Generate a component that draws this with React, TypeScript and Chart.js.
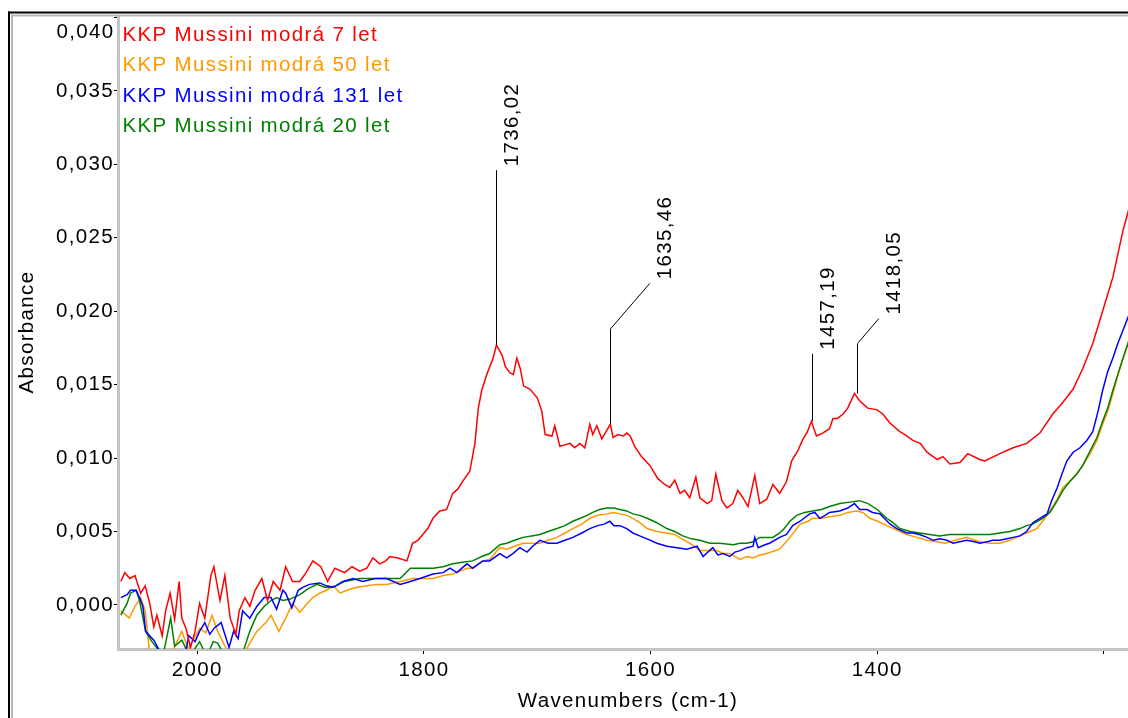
import React, { useEffect, useRef } from 'react';
import { Chart, registerables } from 'chart.js';

Chart.register(...registerables);

const FONT = '"Liberation Sans", Arial, Helvetica, sans-serif';
const FONT_SIZE = 20.5;
const LETTER_SPACING = '1.35px';

const seriesNames = ['KKP Mussini modrá 7 let', 'KKP Mussini modrá 50 let', 'KKP Mussini modrá 131 let', 'KKP Mussini modrá 20 let'];
const seriesColors = ['#ff0000', '#ff9900', '#0000ff', '#008000'];

const xTickLabels: Record<number, string> = { 2000: '2000', 1800: '1800', 1600: '1600', 1400: '1400', 1200: '' };

const peakWn = [1736.02, 1635.46, 1457.19, 1418.05];
const peakLabels = ['1736,02', '1635,46', '1457,19', '1418,05'];
const peakAbs = [0.0177, 0.0123, 0.0125, 0.0144];
const leaderElbowAbs = [0.0296, 0.0188, 0.0171, 0.0178];
const leaderEndWn = [1736.02, 1600.6, 1457.19, 1398.5];
const leaderEndAbs = [0.0296, 0.0219, 0.0171, 0.0195];

// KKP Mussini modrá 7 let
const red7: [number, number][] = [
  [2067.5, 0.0016], [2064, 0.0022], [2059.6, 0.0018], [2055, 0.002], [2050, 0.0008], [2046, 0.0013], [2042, 0.0001],
  [2038.4, -0.0015], [2035.7, -0.0007], [2031, -0.0021], [2028, -0.0004], [2024, 0.0008], [2020, -0.001], [2016, 0.0016],
  [2013.7, -0.0009], [2010, -0.0016], [2006, -0.0029], [2002, -0.0018], [1998, 0.0001], [1993.4, -0.0009], [1988, 0.002],
  [1985.4, 0.0026], [1980, 0.0003], [1975.7, 0.002], [1971, -0.0009], [1966, -0.002], [1963, -0.0004], [1958, 0.0005],
  [1953.7, -0.0001], [1949, 0.001], [1943, 0.0018], [1938, 0.0003], [1933, 0.0016], [1927, 0.001], [1922, 0.0026],
  [1916, 0.0016], [1909.5, 0.0016], [1904, 0.0022], [1898, 0.003], [1891, 0.0026], [1885, 0.0016], [1878.6, 0.0025],
  [1870, 0.0022], [1863.5, 0.0026], [1856.6, 0.0023], [1850.4, 0.0025], [1845, 0.0032], [1839, 0.0028], [1833.7, 0.003],
  [1830, 0.0033], [1823, 0.0032], [1815, 0.003], [1810, 0.0042], [1805.3, 0.0044], [1801, 0.0048], [1796.6, 0.0052],
  [1792, 0.0059], [1786, 0.0064], [1780, 0.0065], [1774.5, 0.0076], [1770, 0.0079], [1766, 0.0084], [1759.5, 0.0091],
  [1755, 0.011], [1752, 0.0134], [1749, 0.0146], [1744.5, 0.0157], [1739, 0.0168], [1736, 0.0177], [1731, 0.017],
  [1728, 0.0162], [1724, 0.0158], [1721, 0.0157], [1718, 0.0168], [1715, 0.0161], [1712, 0.0149], [1706.5, 0.0147],
  [1700, 0.0141], [1696, 0.0132], [1693, 0.0116], [1687, 0.0115], [1684.5, 0.0122], [1680, 0.0108], [1675.6, 0.0109],
  [1671, 0.011], [1667, 0.0107], [1662.4, 0.011], [1658, 0.0107], [1653.6, 0.0123], [1651, 0.0116], [1647.4, 0.0122],
  [1643, 0.0113], [1640, 0.0117], [1635.5, 0.0123], [1633, 0.0114], [1629, 0.0116], [1624, 0.0115], [1621, 0.0117],
  [1618, 0.0115], [1614, 0.0108], [1608, 0.0101], [1600.6, 0.0095], [1593.5, 0.0086], [1587.4, 0.0082], [1583, 0.008],
  [1578.6, 0.0085], [1574, 0.0076], [1570, 0.0078], [1565.4, 0.0073], [1560, 0.0087], [1556.5, 0.0073], [1550, 0.0069],
  [1546, 0.0071], [1542.4, 0.0089], [1537, 0.0071], [1532.7, 0.0066], [1527.4, 0.0069], [1523, 0.0078], [1518.5, 0.0073],
  [1514, 0.0067], [1508, 0.0088], [1503.6, 0.0069], [1497.4, 0.0072], [1492, 0.0082], [1486, 0.0076], [1480, 0.0084],
  [1475.5, 0.0098], [1470, 0.0105], [1466, 0.0112], [1461.5, 0.0118], [1458, 0.0125], [1453.6, 0.0115], [1448, 0.0117],
  [1442, 0.012], [1439, 0.0127], [1435, 0.0127], [1430, 0.013], [1426, 0.0134], [1420, 0.0144], [1415.5, 0.0139],
  [1408.4, 0.0134], [1400.4, 0.0133], [1395, 0.013], [1389, 0.0124], [1380, 0.0118], [1375.5, 0.0116], [1368.5, 0.0112],
  [1362, 0.011], [1356, 0.0104], [1347, 0.0099], [1342, 0.0101], [1335.8, 0.0096], [1327, 0.0097], [1320, 0.0103],
  [1309.5, 0.0099], [1305, 0.0098], [1291.7, 0.0103], [1280, 0.0107], [1268, 0.011], [1256.4, 0.0117], [1245, 0.013],
  [1236, 0.0138], [1227, 0.0147], [1218.5, 0.0161], [1209.7, 0.0178], [1201, 0.02], [1192, 0.0223], [1183, 0.0255],
  [1177, 0.0272],
];

// KKP Mussini modrá 50 let
const orange50: [number, number][] = [
  [2067.5, -0.0004], [2060, -0.0009], [2055, -0.0001], [2050, 0.0005], [2046, -0.0004], [2042, -0.0033], [2033, -0.0038],
  [2024, -0.0035], [2013.7, -0.0018], [2008, -0.003], [1998, -0.0016], [1992.5, -0.0019], [1987, -0.0007], [1982, -0.0018],
  [1975.7, -0.0028], [1969.6, -0.0035], [1960, -0.0035], [1953.7, -0.0026], [1947.5, -0.0018], [1939.5, -0.0012],
  [1935, -0.0007], [1928, -0.0018], [1922, -0.0009], [1916, 0.0001], [1909.5, -0.0005], [1903, 0.0001], [1898, 0.0005],
  [1892, 0.0008], [1886, 0.001], [1880, 0.0013], [1874, 0.0008], [1868, 0.001], [1859, 0.0012], [1850, 0.0013],
  [1841.5, 0.0014], [1833, 0.0014], [1821, 0.0016], [1810, 0.0018], [1801, 0.0018], [1792, 0.0018], [1783, 0.002],
  [1774.5, 0.0021], [1762, 0.0025], [1757, 0.0025], [1748, 0.003], [1742, 0.0031], [1733, 0.0039], [1727, 0.0038],
  [1720, 0.004], [1712.6, 0.0042], [1705, 0.0042], [1697.6, 0.0042], [1690.5, 0.0044], [1682.6, 0.0046], [1675.6, 0.0049],
  [1668.6, 0.0052], [1660.6, 0.0055], [1653.6, 0.0059], [1646.6, 0.0061], [1638.6, 0.0062], [1632.4, 0.0063], [1627, 0.0062],
  [1621, 0.0061], [1615.6, 0.0059], [1609.5, 0.0056], [1603, 0.0052], [1594.4, 0.005], [1585.6, 0.0049], [1578.6, 0.0048],
  [1572.4, 0.0045], [1565.4, 0.0042], [1556.5, 0.0037], [1549.4, 0.0037], [1541.5, 0.0037], [1536, 0.0035], [1530, 0.0035],
  [1521, 0.0031], [1515, 0.0033], [1509.5, 0.0032], [1503.5, 0.0034], [1497.4, 0.0035], [1486, 0.0038], [1477, 0.0046],
  [1468, 0.0055], [1461, 0.0057], [1457, 0.0059], [1449, 0.0059], [1442, 0.006], [1433, 0.0061], [1426, 0.0063],
  [1418, 0.0064], [1412.6, 0.0063], [1406.5, 0.0059], [1399.5, 0.0057], [1391.5, 0.0054], [1382.6, 0.0051], [1374, 0.0048],
  [1365, 0.0046], [1356, 0.0044], [1347, 0.0043], [1340, 0.0042], [1331, 0.0044], [1321, 0.0046], [1314, 0.0044],
  [1309.5, 0.0043], [1300.5, 0.0042], [1291.7, 0.0042], [1283, 0.0044], [1274, 0.0047], [1265, 0.005], [1259, 0.0052],
  [1254, 0.0057], [1247.5, 0.0064], [1241, 0.0072], [1236, 0.008], [1230, 0.0084], [1224, 0.0089], [1218.5, 0.0095],
  [1212, 0.0103], [1206, 0.0112], [1201, 0.0123], [1196.5, 0.0132], [1192, 0.0144], [1187.6, 0.0156], [1183, 0.0168],
  [1177, 0.0181],
];

// KKP Mussini modrá 131 let
const blue131: [number, number][] = [
  [2067.5, 0.0005], [2062, 0.0007], [2059, 0.001], [2054, 0.001], [2051, 0.0005], [2048, -0.0001], [2045.6, -0.0018],
  [2038.4, -0.0024], [2032, -0.0033], [2024, -0.0037], [2015.4, -0.0038], [2010, -0.0031], [2007.5, -0.0021], [2002, -0.0025],
  [1998, -0.0018], [1993.4, -0.0012], [1989, -0.002], [1985.4, -0.0016], [1979, -0.0012], [1972, -0.0029], [1968, -0.0018],
  [1964, -0.0023], [1960, -0.0004], [1953.7, -0.0009], [1947.5, -0.0001], [1941, 0.0005], [1935, 0.0005], [1930, -0.0003],
  [1924.5, 0.001], [1922, 0.0008], [1916.6, -0.0002], [1911, 0.001], [1907, 0.0012], [1901, 0.0014], [1892, 0.0015],
  [1886, 0.0013], [1880, 0.0012], [1871.5, 0.0016], [1862.5, 0.0018], [1854, 0.0016], [1843, 0.0018], [1833, 0.0018],
  [1821, 0.0014], [1812, 0.0016], [1803.6, 0.0018], [1792, 0.0021], [1783, 0.0022], [1777, 0.0025], [1771, 0.0022],
  [1762, 0.0028], [1757, 0.0025], [1748, 0.003], [1742, 0.003], [1733, 0.0035], [1727, 0.0032], [1721.5, 0.0035],
  [1715.4, 0.0039], [1709, 0.0036], [1704, 0.004], [1697.6, 0.0044], [1690.5, 0.0042], [1682.6, 0.0042], [1675.6, 0.0044],
  [1668.6, 0.0046], [1660.6, 0.0049], [1653.6, 0.0052], [1646.6, 0.0054], [1641, 0.0055], [1636, 0.0057], [1632.4, 0.0054],
  [1627, 0.0054], [1621, 0.0052], [1615.6, 0.0049], [1609.5, 0.0047], [1603, 0.0045], [1594.4, 0.0042], [1585.6, 0.004],
  [1576.8, 0.0039], [1568, 0.0038], [1559, 0.004], [1553.6, 0.0033], [1549.4, 0.0036], [1545, 0.0039], [1540.6, 0.0034],
  [1536, 0.0035], [1530, 0.0033], [1525.6, 0.0036], [1521, 0.0037], [1515, 0.0039], [1509.5, 0.004], [1508, 0.0046],
  [1505, 0.0039], [1499, 0.0041], [1495, 0.0042], [1486, 0.0046], [1480, 0.0048], [1474.5, 0.0054], [1468, 0.0057],
  [1459.5, 0.0062], [1455, 0.0063], [1450.6, 0.0059], [1446, 0.0061], [1442, 0.0063], [1433, 0.0064], [1426, 0.0066],
  [1420, 0.0069], [1415.5, 0.0065], [1409, 0.0065], [1404, 0.0063], [1397.5, 0.0062], [1388.5, 0.0055], [1382.6, 0.0052],
  [1374, 0.0049], [1368.5, 0.0049], [1362.5, 0.0048], [1356, 0.0046], [1350.5, 0.0044], [1344.5, 0.0045], [1338.5, 0.0044],
  [1333, 0.0042], [1327, 0.0043], [1321, 0.0044], [1314, 0.0043], [1309.5, 0.0042], [1303, 0.0043], [1298, 0.0044],
  [1291.7, 0.0044], [1285.6, 0.0045], [1280, 0.0046], [1274, 0.0047], [1268, 0.005], [1262.6, 0.0056], [1256.4, 0.0059],
  [1250, 0.0062], [1246, 0.0071], [1241, 0.008], [1237, 0.0089], [1232.6, 0.0098], [1227, 0.0104], [1221, 0.0107],
  [1215, 0.0112], [1209.7, 0.0118], [1205, 0.0132], [1201, 0.0146], [1196.5, 0.0159], [1192, 0.0168], [1187.6, 0.0178],
  [1183, 0.0187], [1177, 0.0199],
];

// KKP Mussini modrá 20 let
const green20: [number, number][] = [
  [2067.5, -0.0007], [2062, 0.0001], [2059, 0.0008], [2054, 0.001], [2051, 0.0003], [2045.6, -0.0018], [2040, -0.0025],
  [2035, -0.003], [2029.6, -0.0032], [2023.5, -0.0009], [2020, -0.0028], [2013.7, -0.0024], [2006.6, -0.0035], [1998, -0.0025],
  [1991.6, -0.0035], [1986, -0.0025], [1982, -0.0026], [1975.7, -0.0035], [1967, -0.0038], [1960, -0.0033], [1953.7, -0.0018],
  [1947.5, -0.0007], [1941, -0.0001], [1935, 0.0003], [1930, 0.0005], [1924.5, 0.0003], [1918, 0.0004], [1909.5, 0.0007],
  [1902.4, 0.0011], [1894.5, 0.0014], [1887.4, 0.0012], [1880, 0.0012], [1870, 0.0016], [1856.6, 0.0018], [1843, 0.0018],
  [1830, 0.0018], [1821, 0.0018], [1812, 0.0025], [1803.6, 0.0025], [1792, 0.0025], [1783, 0.0026], [1774.5, 0.0028],
  [1766, 0.0029], [1757, 0.003], [1749, 0.0033], [1742, 0.0035], [1733, 0.0041], [1727, 0.0042], [1720, 0.0044],
  [1712.6, 0.0046], [1705, 0.0047], [1697.6, 0.0048], [1690.5, 0.005], [1682.6, 0.0052], [1675.6, 0.0054], [1668.6, 0.0057],
  [1662, 0.0059], [1656, 0.0061], [1651, 0.0063], [1645, 0.0065], [1638.6, 0.0066], [1632.4, 0.0066], [1627, 0.0065],
  [1621, 0.0064], [1615.6, 0.0062], [1609.5, 0.0061], [1603, 0.0059], [1594.4, 0.0056], [1585.6, 0.0052], [1578.6, 0.005],
  [1571.6, 0.0047], [1563.6, 0.0045], [1556.5, 0.0044], [1547.6, 0.0042], [1539, 0.0042], [1527, 0.0041], [1521, 0.0042],
  [1515, 0.0042], [1509.5, 0.0043], [1503.5, 0.0046], [1497.4, 0.0046], [1492, 0.0046], [1486, 0.0049], [1482, 0.0052],
  [1477, 0.0057], [1471, 0.0061], [1464, 0.0063], [1457, 0.0064], [1449, 0.0065], [1442, 0.0067], [1433, 0.0069],
  [1424, 0.007], [1415.5, 0.0071], [1408, 0.0069], [1400, 0.0065], [1391.5, 0.0059], [1386, 0.0056], [1380, 0.0052],
  [1371, 0.005], [1362.5, 0.0049], [1353.6, 0.0048], [1345, 0.0047], [1336, 0.0048], [1327, 0.0048], [1318, 0.0048],
  [1309.5, 0.0048], [1300.5, 0.0048], [1291.7, 0.0049], [1283, 0.005], [1274, 0.0052], [1268, 0.0054], [1262.6, 0.0055],
  [1254, 0.0059], [1247.5, 0.0063], [1241, 0.0071], [1236, 0.0078], [1230, 0.0084], [1224, 0.0089], [1218.5, 0.0095],
  [1212, 0.0105], [1206, 0.0114], [1201, 0.0125], [1196.5, 0.0134], [1192, 0.0146], [1187.6, 0.0157], [1183, 0.0168],
  [1177, 0.0182],
];

const seriesData = [red7, orange50, blue131, green20];
// draw order: red on top, then blue, green, orange at the bottom
const drawOrder = [0, 2, 3, 1];

const decorPlugin = {
  id: 'decor',
  beforeDraw(chart: any) {
    const ctx = chart.ctx;
    ctx.letterSpacing = LETTER_SPACING;
    ctx.save();
    ctx.fillStyle = '#ffffff';
    ctx.fillRect(0, 0, chart.width, chart.height);
    ctx.restore();
  },
  afterDraw(chart: any) {
    const ctx = chart.ctx;
    const xs = chart.scales.x;
    const ys = chart.scales.y;
    ctx.save();
    // frame
    ctx.fillStyle = '#000000';
    ctx.fillRect(8, 11.5, 1400, 2);
    ctx.fillRect(8, 11.5, 2, 900);
    ctx.fillStyle = '#b8b8b8';
    ctx.fillRect(11, 14.5, 1400, 2);
    ctx.fillRect(11, 14.5, 2, 900);

    ctx.font = `${FONT_SIZE}px ${FONT}`;
    ctx.letterSpacing = LETTER_SPACING;
    ctx.textBaseline = 'alphabetic';

    // legend
    ctx.textAlign = 'left';
    seriesNames.forEach((name, i) => {
      ctx.fillStyle = seriesColors[i];
      ctx.fillText(name, 122.5, 40.5 + 30.5 * i);
    });

    // top y label (shifted down as in the original)
    ctx.fillStyle = '#000000';
    ctx.textAlign = 'right';
    ctx.fillText('0,040', 114.5, 37.5);

    // axis titles
    ctx.textAlign = 'center';
    ctx.fillText('Wavenumbers (cm-1)', 628, 707);
    ctx.save();
    ctx.translate(33, 332);
    ctx.rotate(-Math.PI / 2);
    ctx.fillText('Absorbance', 0, 0);
    ctx.restore();

    // peak annotations
    ctx.strokeStyle = '#000000';
    ctx.lineWidth = 1;
    peakWn.forEach((wn, i) => {
      const px = Math.round(xs.getPixelForValue(wn)) + 0.5;
      const py = ys.getPixelForValue(peakAbs[i]);
      const ey = ys.getPixelForValue(leaderElbowAbs[i]);
      const ex2 = leaderEndWn[i] === wn ? px : xs.getPixelForValue(leaderEndWn[i]);
      const ey2 = ys.getPixelForValue(leaderEndAbs[i]);
      ctx.beginPath();
      ctx.moveTo(px, py);
      ctx.lineTo(px, ey);
      if (ex2 !== px || ey2 !== ey) ctx.lineTo(ex2, ey2);
      ctx.stroke();
      ctx.save();
      ctx.translate(ex2 + 21, ey2 - 4);
      ctx.rotate(-Math.PI / 2);
      ctx.textAlign = 'left';
      ctx.fillText(peakLabels[i], 0, 0);
      ctx.restore();
    });
    ctx.restore();
  },
};

export default function App() {
  const canvasRef = useRef<HTMLCanvasElement | null>(null);

  useEffect(() => {
    if (!canvasRef.current) return;
    const datasets = drawOrder.map((idx) => ({
      label: seriesNames[idx],
      data: seriesData[idx].map(([x, y]) => ({ x, y })),
      borderColor: seriesColors[idx],
      backgroundColor: seriesColors[idx],
      borderWidth: 1.5,
      pointRadius: 0,
      tension: 0,
      fill: false,
    }));
    const tickFont = { family: FONT, size: FONT_SIZE };
    const chart = new Chart(canvasRef.current, {
      type: 'line',
      data: { datasets },
      options: {
        animation: false,
        responsive: false,
        maintainAspectRatio: false,
        layout: { padding: { top: 16, left: 0, right: 0, bottom: 0 } },
        plugins: { legend: { display: false }, tooltip: { enabled: false } },
        scales: {
          x: {
            type: 'linear',
            reverse: true,
            min: 1178.6,
            max: 2070,
            afterFit: (s: any) => { s.height = 69; },
            border: { display: true, color: '#c4c4c4', width: 3 },
            grid: { drawOnChartArea: false, drawTicks: true, tickLength: 5, tickColor: '#000000', tickWidth: 1 },
            ticks: {
              stepSize: 200,
              includeBounds: false,
              autoSkip: false,
              maxRotation: 0,
              padding: 4,
              color: '#000000',
              font: tickFont,
              callback: (v: any) => (xTickLabels[Number(v)] !== undefined ? xTickLabels[Number(v)] : ''),
            },
          },
          y: {
            type: 'linear',
            min: -0.003,
            max: 0.0401,
            afterFit: (s: any) => { s.width = 118; },
            border: { display: true, color: '#c4c4c4', width: 3 },
            grid: { drawOnChartArea: false, drawTicks: true, tickLength: 4, tickColor: '#000000', tickWidth: 1 },
            ticks: {
              stepSize: 0.005,
              includeBounds: false,
              padding: 0,
              color: '#000000',
              font: tickFont,
              callback: (v: any) => (Math.abs(Number(v) - 0.04) < 1e-9 ? '' : Number(v).toFixed(3).replace('.', ',')),
            },
          },
        },
      },
      plugins: [decorPlugin],
    } as any);
    return () => chart.destroy();
  }, []);

  return (
    <div style={{ position: 'fixed', left: 0, top: 0, width: 1128, height: 718, overflow: 'hidden', background: '#fff' }}>
      <canvas ref={canvasRef} width={1128} height={718} style={{ display: 'block' }} />
    </div>
  );
}
